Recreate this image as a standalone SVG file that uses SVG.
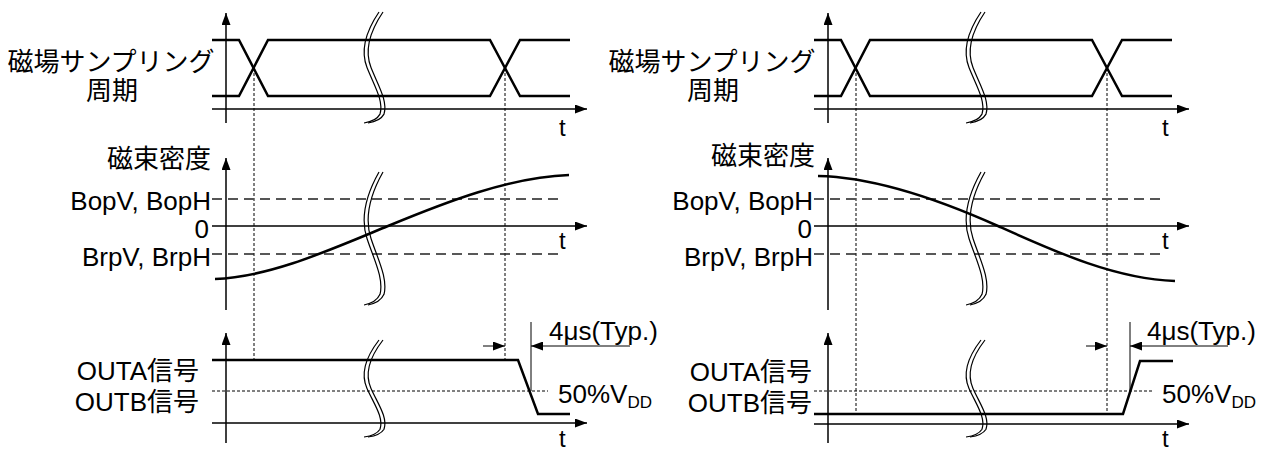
<svg xmlns="http://www.w3.org/2000/svg" width="1274" height="452" viewBox="0 0 1274 452">
<style>
text{font-family:"Liberation Sans","Noto Sans CJK JP",sans-serif;font-size:26px;fill:#000}
.t{font-size:24px}
.sub{font-size:17px}
.e{text-anchor:end}
.m{text-anchor:middle}
.wave{fill:none;stroke:#000;stroke-width:2.5;stroke-linejoin:miter}
.ax{fill:none;stroke:#000;stroke-width:1.5}
.thin{fill:none;stroke:#000;stroke-width:1}
.dot{fill:none;stroke:#000;stroke-width:1;stroke-dasharray:3 2}
.dashA{fill:none;stroke:#555;stroke-width:2;stroke-dasharray:10 6}
.dashB{fill:none;stroke:#222;stroke-width:1.5;stroke-dasharray:10 6}
.brk{fill:none;stroke:#000;stroke-width:1.2}
</style>
<defs>
<marker id="arr" markerUnits="userSpaceOnUse" markerWidth="12" markerHeight="9" refX="12" refY="4.5" orient="auto">
<path d="M0,0 L12,4.5 L0,9 z" fill="#000"/>
</marker>
<path id="brk" d="M16,0 C4,16 -3,34 4,50 C11,66 21,80 17,92 C14,97 8,99 1,100" vector-effect="non-scaling-stroke"/>
<g id="brkpair" class="brk">
<use href="#brk"/>
<use href="#brk" x="4"/>
</g>
</defs>

<g id="connectors">
<line class="dot" x1="254" y1="68" x2="254" y2="360"/>
<line class="dot" x1="505" y1="68" x2="505" y2="360"/>
<line class="dot" x1="856" y1="68" x2="856" y2="414"/>
<line class="dot" x1="1107" y1="68" x2="1107" y2="414"/>
</g>

<g id="left-sampling">
<line class="ax" x1="226" y1="123" x2="226" y2="13" marker-end="url(#arr)"/>
<line class="ax" x1="212" y1="109" x2="587" y2="109" marker-end="url(#arr)"/>
<path class="wave" d="M212,40 H239 L268,96 H490 L520,40 H570"/>
<path class="wave" d="M212,96 H239 L268,40 H490 L520,96 H570"/>
<use href="#brkpair" transform="translate(363,12) scale(1,1.11)"/>
<text class="m" x="111" y="71">磁場サンプリング</text>
<text class="m" x="112" y="100">周期</text>
<text class="t" x="559" y="136">t</text>
</g>

<g id="left-flux">
<line class="ax" x1="226" y1="310" x2="226" y2="158" marker-end="url(#arr)"/>
<line class="ax" x1="212" y1="226" x2="587" y2="226" marker-end="url(#arr)"/>
<line class="dashA" x1="212" y1="199" x2="563" y2="199"/>
<line class="dashB" x1="212" y1="254" x2="563" y2="254"/>
<path class="wave" d="M215,279 C270,277 330,250 388,226 S510,177 569,175"/>
<use href="#brkpair" transform="translate(363,172) scale(1,1.33)"/>
<text class="e" x="211" y="168">磁束密度</text>
<text class="e" x="211" y="210">BopV, BopH</text>
<text class="e" x="209" y="238">0</text>
<text class="e" x="211" y="266">BrpV, BrpH</text>
<text class="t" x="559" y="249">t</text>
</g>

<g id="left-output">
<line class="ax" x1="226" y1="443" x2="226" y2="333" marker-end="url(#arr)"/>
<line class="ax" x1="212" y1="423" x2="587" y2="423" marker-end="url(#arr)"/>
<line class="dot" x1="212" y1="391" x2="548" y2="391"/>
<path class="wave" d="M212,360 H518 L538,414 H570"/>
<use href="#brkpair" transform="translate(363,340) scale(1,0.97)"/>
<line class="thin" x1="531" y1="322" x2="531" y2="391"/>
<line class="thin" x1="483" y1="346" x2="505" y2="346" marker-end="url(#arr)"/>
<line class="thin" x1="630" y1="346" x2="531" y2="346" marker-end="url(#arr)"/>
<text x="549" y="340">4μs(Typ.)</text>
<text x="558" y="403">50%V<tspan class="sub" dy="5">DD</tspan></text>
<text class="e" x="199" y="380">OUTA信号</text>
<text class="e" x="199" y="411">OUTB信号</text>
<text class="t" x="559" y="447">t</text>
</g>

<g id="right-sampling">
<line class="ax" x1="828" y1="123" x2="828" y2="13" marker-end="url(#arr)"/>
<line class="ax" x1="814" y1="109" x2="1189" y2="109" marker-end="url(#arr)"/>
<path class="wave" d="M814,40 H841 L870,96 H1092 L1122,40 H1172"/>
<path class="wave" d="M814,96 H841 L870,40 H1092 L1122,96 H1172"/>
<use href="#brkpair" transform="translate(965,12) scale(1,1.11)"/>
<text class="m" x="712" y="71">磁場サンプリング</text>
<text class="m" x="713" y="100">周期</text>
<text class="t" x="1162" y="136">t</text>
</g>

<g id="right-flux">
<line class="ax" x1="828" y1="310" x2="828" y2="158" marker-end="url(#arr)"/>
<line class="ax" x1="814" y1="226" x2="1189" y2="226" marker-end="url(#arr)"/>
<line class="dashA" x1="814" y1="199" x2="1166" y2="199"/>
<line class="dashB" x1="814" y1="254" x2="1166" y2="254"/>
<path class="wave" d="M818,176 C875,177 940,200 998,226 S1115,279 1175,281"/>
<use href="#brkpair" transform="translate(965,172) scale(1,1.33)"/>
<text class="e" x="815" y="165">磁束密度</text>
<text class="e" x="813" y="210">BopV, BopH</text>
<text class="e" x="812" y="238">0</text>
<text class="e" x="813" y="266">BrpV, BrpH</text>
<text class="t" x="1162" y="249">t</text>
</g>

<g id="right-output">
<line class="ax" x1="828" y1="443" x2="828" y2="333" marker-end="url(#arr)"/>
<line class="ax" x1="814" y1="424" x2="1189" y2="424" marker-end="url(#arr)"/>
<line class="dot" x1="814" y1="391" x2="1152" y2="391"/>
<path class="wave" d="M814,414 H1123 L1140,361 H1173"/>
<use href="#brkpair" transform="translate(965,340) scale(1,0.97)"/>
<line class="thin" x1="1130" y1="322" x2="1130" y2="391"/>
<line class="thin" x1="1086" y1="346" x2="1107" y2="346" marker-end="url(#arr)"/>
<line class="thin" x1="1228" y1="346" x2="1130" y2="346" marker-end="url(#arr)"/>
<text x="1147" y="340">4μs(Typ.)</text>
<text x="1162" y="403">50%V<tspan class="sub" dy="5">DD</tspan></text>
<text class="e" x="812" y="381">OUTA信号</text>
<text class="e" x="812" y="412">OUTB信号</text>
<text class="t" x="1162" y="447">t</text>
</g>
</svg>
